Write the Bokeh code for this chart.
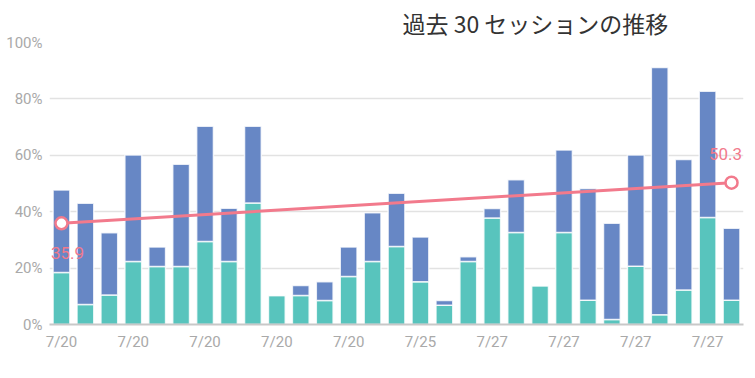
from bokeh.plotting import figure
from bokeh.models import Range1d, FixedTicker, Title, Label, ColumnDataSource
from bokeh.embed import file_html
from bokeh.resources import INLINE

# --- data ---
sessions = list(range(1, 30))
teal_vals = [18.4, 7.1, 10.5, 22.3, 20.6, 20.6, 29.4, 22.3, 43.1, 10.3,
             10.3, 8.5, 17.0, 22.3, 27.7, 15.2, 6.8, 22.3, 37.8, 32.6,
             13.7, 32.6, 8.6, 1.8, 20.7, 3.5, 12.2, 37.9, 8.6]
total_vals = [47.7, 43.0, 32.5, 60.1, 27.5, 56.8, 70.3, 41.2, 70.3, 10.3,
              13.8, 15.2, 27.5, 39.6, 46.5, 31.0, 8.5, 24.0, 41.1, 51.3,
              13.7, 61.9, 48.2, 35.9, 60.1, 91.1, 58.5, 82.7, 34.1]
blue_vals = [round(t - b, 1) for t, b in zip(total_vals, teal_vals)]
trend_x = [1, 29]
trend_y = [35.9, 50.3]
tick_positions = [1, 4, 7, 10, 13, 16, 19, 22, 25, 28]
tick_labels = ["7/20", "7/20", "7/20", "7/20", "7/20", "7/25", "7/27", "7/27", "7/27", "7/27"]
y_ticks = [0, 20, 40, 60, 80, 100]
title_text = "過去 30 セッションの推移"

TEAL = "#58C4BD"
BLUE = "#6787C5"
PINK = "#F27A8C"
GREY = "#A9A9A9"

src = ColumnDataSource(dict(x=sessions, teal=teal_vals, blue=blue_vals))

p = figure(frame_width=694, frame_height=282, output_backend="svg", toolbar_location=None,
           x_range=Range1d(0.5, 29.5), y_range=Range1d(0, 100),
           min_border_left=49, min_border_right=1, min_border_top=20, min_border_bottom=30)
p.title = Title(text=title_text, text_font="Noto Sans CJK JP", text_font_size="23px",
                text_font_style="normal", text_color="#333333", align="left", offset=353,
                standoff=6)

p.vbar_stack(["teal", "blue"], x="x", width=0.7, source=src, color=[TEAL, BLUE],
             line_color="white", line_width=1.5, line_alpha=0.8)

p.line(trend_x, trend_y, line_color=PINK, line_width=3)
p.scatter(trend_x, trend_y, size=12, fill_color="white", line_color=PINK, line_width=2.5)

p.add_layout(Label(x=trend_x[0], y=trend_y[0], text=f"{trend_y[0]}", x_offset=6, y_offset=-30,
                   text_align="center", text_baseline="middle", text_color=PINK,
                   text_font="Roboto", text_font_size="17px"))
p.add_layout(Label(x=trend_x[1], y=trend_y[1], text=f"{trend_y[1]}", x_offset=-6, y_offset=29,
                   text_align="center", text_baseline="middle", text_color=PINK,
                   text_font="Roboto", text_font_size="17px"))

p.xaxis.ticker = FixedTicker(ticks=tick_positions)
p.xaxis.major_label_overrides = {t: l for t, l in zip(tick_positions, tick_labels)}
p.yaxis.ticker = FixedTicker(ticks=y_ticks)
p.yaxis.major_label_overrides = {v: f"{v}%" for v in y_ticks}

for ax in (p.xaxis, p.yaxis):
    ax.major_tick_line_color = None
    ax.minor_tick_line_color = None
    ax.major_tick_out = 0
    ax.major_tick_in = 0
    ax.minor_tick_out = 0
    ax.minor_tick_in = 0
    ax.major_label_text_color = GREY
    ax.major_label_text_font = "Roboto"
    ax.major_label_text_font_size = "15px"
p.yaxis.axis_line_color = None
p.xaxis.axis_line_color = "#C8C8C8"
p.xaxis.axis_line_width = 2
p.xaxis.major_label_standoff = 8
p.yaxis.major_label_standoff = 7

p.xgrid.grid_line_color = None
p.ygrid.grid_line_color = "#E2E2E2"
p.ygrid.grid_line_width = 1.5
p.outline_line_color = None
p.background_fill_color = "white"
p.border_fill_color = "white"

open("out.html", "w").write(file_html(p, INLINE))
